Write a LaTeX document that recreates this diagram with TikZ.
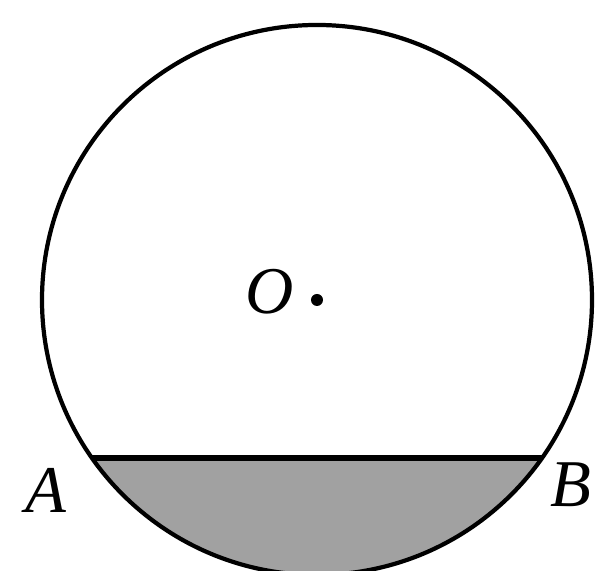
\documentclass[tikz,border=0pt]{standalone}
\usepackage{fontspec}
\setmainfont{Liberation Serif}
\usepackage{tikz}
\usetikzlibrary{calc}

\begin{document}
\begin{tikzpicture}[x=0.01cm, y=0.01cm,
  lbl/.style = {font=\fontsize{19}{22}\selectfont\itshape}]
  \useasboundingbox (0,0) rectangle (602,571);
  \coordinate (O) at (317, 271);
  \coordinate (A) at ($(O) + (215.08:275)$);
  \coordinate (B) at ($(O) + (324.92:275)$);

  % shaded segment under the chord
  \fill[fill = black!37] (A) arc[radius = 275, start angle = 215.08, end angle = 324.92] -- cycle;
  \draw[line width = 1.2pt] (O) circle[radius = 275];
  \draw[line width = 1.8pt] (A) -- (B);
  \fill (O) circle[radius = 6];

  \node[lbl] (labO) at (270, 279) {O};
  \node[lbl] (labA) at (46, 81) {A};
  \node[lbl] (labB) at (571, 86) {B};
\end{tikzpicture}
\end{document}
